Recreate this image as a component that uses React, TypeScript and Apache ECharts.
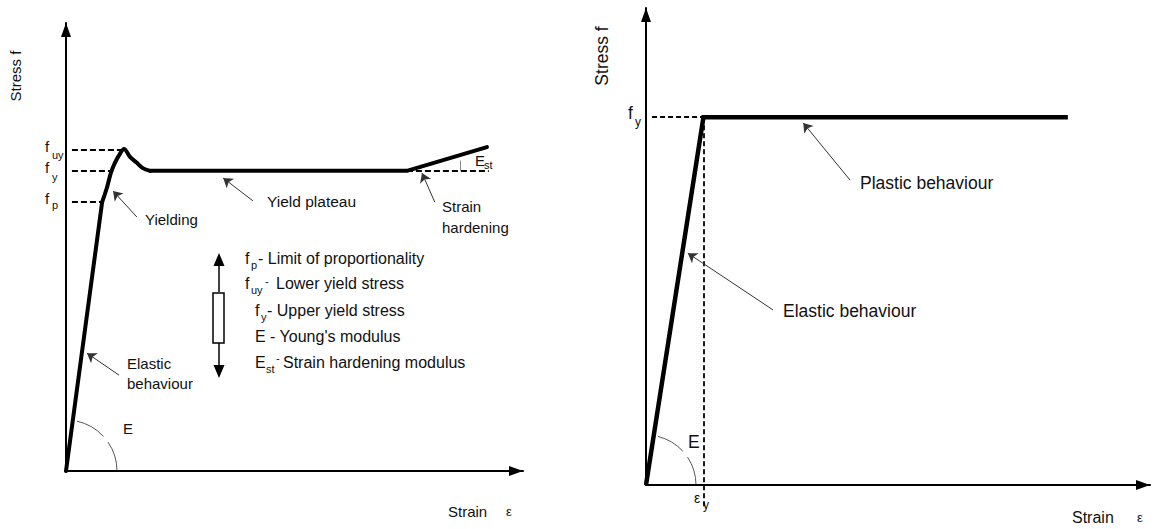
import React, { useEffect, useRef } from "react";
import * as echarts from "echarts";

// Left diagram: typical stress-strain curve of mild steel (axis units 0..100)
const leftStrain = [0, 7.9, 9.0, 9.8, 10.7, 11.8, 12.7, 14.0, 15.5, 16.8, 18.4, 74.6, 92.1];
const leftStress = [0, 60.0, 63.4, 66.5, 68.8, 70.8, 71.9, 70.1, 68.8, 67.6, 67.0, 67.0, 72.3];
const leftLevelStress = [71.7, 67.0, 60.0]; // fuy, fy, fp
const leftLevelStrainEnd = [12.3, 9.7, 7.5];
const hardeningStart = 74.6;
const hardeningDashEnd = 92.5;

// Right diagram: idealised elastic-perfectly plastic curve
const rightStrain = [0, 11.4, 83.7];
const rightStress = [0, 77.1, 77.1];
const rightYieldStrain = 11.4;
const rightYieldStress = 77.1;

// Annotation arrows [tailStrain, tailStress, tipStrain, tipStress]
const leftArrows = [
  [15.5, 56.7, 10.3, 62.5], // Yielding
  [40.9, 60.3, 34.4, 65.4], // Yield plateau
  [80.7, 60.0, 77.9, 66.5], // Strain hardening
  [11.6, 21.4, 4.6, 26.3], // Elastic behaviour
];
const rightArrows = [
  [40.5, 63.9, 31.2, 75.9], // Plastic behaviour
  [25.2, 36.7, 8.3, 48.6], // Elastic behaviour
];

const FONT = "'Liberation Sans', Arial, sans-serif";
const INK = "#111";

function txt(x: number, y: number, text: string, size: number, extra: any = {}) {
  return {
    type: "text",
    x,
    y,
    silent: true,
    ...extra,
    style: {
      text,
      fontSize: size,
      fontFamily: FONT,
      fill: INK,
      align: extra.align || "left",
      verticalAlign: "middle",
      textAlign: extra.align || "left",
      textVerticalAlign: "middle",
    },
  };
}

function axisPair(grid: number) {
  const axisLine = {
    show: true,
    onZero: false,
    symbol: ["none", "triangle"],
    symbolSize: [10, 14],
    symbolOffset: [0, -7],
    lineStyle: { color: "#000", width: 2 },
  };
  return {
    gridIndex: grid,
    type: "value",
    min: 0,
    max: 100,
    axisLine,
    axisTick: { show: false },
    axisLabel: { show: false },
    splitLine: { show: false },
  };
}

export default function App() {
  const ref = useRef<HTMLDivElement>(null);
  useEffect(() => {
    if (!ref.current) return;
    const chart = echarts.init(ref.current, undefined, { renderer: "svg" });

    const dashStyle = { color: "#000", width: 1.8, type: [6, 3] as any, opacity: 1 };
    const pts = leftStrain.map((x, i) => [x, leftStress[i]]);
    const curveLine = { color: "#000", width: 4, join: "round", cap: "round" };

    const leftDashes = leftLevelStress.map((s, i) => ({
      coords: [
        [1.3, s],
        [leftLevelStrainEnd[i], s],
      ],
    }));

    chart.setOption({
      animation: false,
      grid: [
        { left: 66, top: 23, width: 457, height: 448 },
        { left: 646, top: 8, width: 504, height: 477 },
      ],
      xAxis: [axisPair(0), axisPair(1)],
      yAxis: [axisPair(0), axisPair(1)],
      series: [
        {
          type: "line",
          xAxisIndex: 0,
          yAxisIndex: 0,
          data: pts.slice(0, 2),
          showSymbol: false,
          symbol: "none",
          lineStyle: curveLine,
          z: 5,
        },
        {
          type: "line",
          xAxisIndex: 0,
          yAxisIndex: 0,
          data: pts.slice(1, 11),
          smooth: 0.35,
          showSymbol: false,
          symbol: "none",
          lineStyle: curveLine,
          z: 5,
        },
        {
          type: "line",
          xAxisIndex: 0,
          yAxisIndex: 0,
          data: pts.slice(10),
          showSymbol: false,
          symbol: "none",
          lineStyle: curveLine,
          z: 5,
        },
        {
          type: "line",
          xAxisIndex: 1,
          yAxisIndex: 1,
          data: rightStrain.map((x, i) => [x, rightStress[i]]),
          showSymbol: false,
          symbol: "none",
          lineStyle: { color: "#000", width: 4.5, join: "miter", cap: "butt" },
          z: 5,
        },
        {
          type: "lines",
          coordinateSystem: "cartesian2d",
          xAxisIndex: 0,
          yAxisIndex: 0,
          clip: false,
          symbol: "none",
          lineStyle: dashStyle,
          data: [
            ...leftDashes,
            {
              coords: [
                [hardeningStart, leftLevelStress[1]],
                [hardeningDashEnd, leftLevelStress[1]],
              ],
            },
          ],
        },
        {
          type: "lines",
          coordinateSystem: "cartesian2d",
          xAxisIndex: 0,
          yAxisIndex: 0,
          clip: false,
          symbol: "none",
          lineStyle: { color: "#888", width: 1, opacity: 1 },
          data: [
            {
              coords: [
                [86.2, leftLevelStress[1]],
                [86.2, 69.3],
              ],
            },
          ],
        },
        {
          type: "lines",
          coordinateSystem: "cartesian2d",
          xAxisIndex: 1,
          yAxisIndex: 1,
          clip: false,
          symbol: "none",
          lineStyle: { color: "#000", width: 1.8, type: [5, 3] as any, opacity: 1 },
          data: [
            {
              coords: [
                [1.2, rightYieldStress],
                [rightYieldStrain, rightYieldStress],
              ],
            },
            {
              coords: [
                [rightYieldStrain, rightYieldStress],
                [rightYieldStrain, -4.6],
              ],
            },
          ],
        },
        {
          type: "lines",
          coordinateSystem: "cartesian2d",
          xAxisIndex: 0,
          yAxisIndex: 0,
          clip: false,
          symbol: ["none", "arrow"],
          symbolSize: 9,
          lineStyle: { color: "#333", width: 1, opacity: 1 },
          data: leftArrows.map((a) => ({ coords: [[a[0], a[1]], [a[2], a[3]]] })),
        },
        {
          type: "lines",
          coordinateSystem: "cartesian2d",
          xAxisIndex: 1,
          yAxisIndex: 1,
          clip: false,
          symbol: ["none", "arrow"],
          symbolSize: 9,
          lineStyle: { color: "#333", width: 1, opacity: 1 },
          data: rightArrows.map((a) => ({ coords: [[a[0], a[1]], [a[2], a[3]]] })),
        },
      ],
    });

    const o1 = chart.convertToPixel({ gridIndex: 0 }, [0, 0]) as number[];
    const o2 = chart.convertToPixel({ gridIndex: 1 }, [0, 0]) as number[];
    const arcStyle = { stroke: "#555", lineWidth: 1, fill: "none" };
    const arc = (c: number[], r: number, a0: number, a1: number) => ({
      type: "arc",
      silent: true,
      shape: { cx: c[0], cy: c[1], r, startAngle: a0, endAngle: a1, clockwise: true },
      style: arcStyle,
    });

    const L = 15;
    const LG = 16;
    const R = 17.5;
    const S = 11;

    const graphic: any[] = [
      // left diagram texts
      txt(15, 76, "Stress f", L, { rotation: Math.PI / 2, align: "center" }),
      txt(45, 146, "f", L),
      txt(52, 155, "uy", S),
      txt(45, 167, "f", L),
      txt(52, 177, "y", S),
      txt(45, 198, "f", L),
      txt(52, 205, "p", S),
      txt(145, 219, "Yielding", L),
      txt(267, 201, "Yield plateau", L + 0.5),
      txt(442, 206, "Strain", L),
      txt(442, 227, "hardening", L),
      txt(475, 160, "E", L),
      txt(484, 165, "st", S),
      txt(127, 363, "Elastic", L),
      txt(127, 383, "behaviour", L),
      txt(123, 428, "E", L),
      txt(448, 511, "Strain", L),
      txt(506, 511, "ε", 13),
      arc(o1, 51, -1.354, -0.745),
      arc(o1, 51, -0.6, 0),
      // legend
      { type: "line", silent: true, shape: { x1: 219, y1: 292, x2: 219, y2: 262 }, style: { stroke: "#000", lineWidth: 1.5 } },
      { type: "polygon", silent: true, shape: { points: [[213.5, 266], [224.5, 266], [219, 253]] }, style: { fill: "#000" } },
      { type: "rect", silent: true, shape: { x: 213, y: 293, width: 11, height: 50 }, style: { stroke: "#000", lineWidth: 1.5, fill: "#fff" } },
      { type: "line", silent: true, shape: { x1: 219, y1: 343, x2: 219, y2: 368 }, style: { stroke: "#000", lineWidth: 1.5 } },
      { type: "polygon", silent: true, shape: { points: [[213.5, 365], [224.5, 365], [219, 378]] }, style: { fill: "#000" } },
      txt(245, 258, "f", LG),
      txt(251, 265, "p", S),
      txt(258, 258, "- Limit of proportionality", LG),
      txt(245, 283, "f", LG),
      txt(251, 290, "uy", S),
      txt(265, 281, "-", S),
      txt(276, 283, "Lower yield stress", LG),
      txt(255, 310, "f", LG),
      txt(261, 317, "y", S),
      txt(267, 310, "- Upper yield stress", LG),
      txt(255, 336, "E - Young's modulus", LG),
      txt(255, 362, "E", LG),
      txt(266, 369, "st", S),
      txt(276, 358, "-", S),
      txt(283, 362, "Strain hardening modulus", LG),
      // right diagram texts
      txt(602, 56, "Stress f", R, { rotation: Math.PI / 2, align: "center" }),
      txt(628, 113, "f", R),
      txt(635, 122, "y", S + 1),
      txt(860, 183, "Plastic behaviour", R),
      txt(783, 311, "Elastic behaviour", R),
      txt(688, 442, "E", R),
      txt(694, 498, "ε", 14),
      txt(703, 505, "y", S + 1),
      txt(1072, 517, "Strain", R - 1.5),
      txt(1137, 517, "ε", 13),
      arc(o2, 50, -1.33, -0.745),
      arc(o2, 50, -0.59, 0),
    ];

    chart.setOption({ graphic });

    return () => {
      chart.dispose();
    };
  }, []);

  return (
    <div
      ref={ref}
      style={{ position: "absolute", left: 0, top: 0, width: 1159, height: 529, background: "#fff" }}
    />
  );
}
